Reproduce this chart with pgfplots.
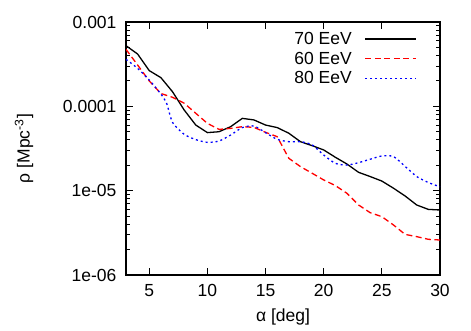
\documentclass[border=0pt]{standalone}
\usepackage{fontspec}
\setmainfont{Liberation Sans}
\usepackage{pgfplots}
\pgfplotsset{compat=1.18}
\newcommand{\chartfont}{\fontsize{17.5}{20}\selectfont}
\begin{document}
\begin{tikzpicture}
\begin{axis}[
  at={(126pt,55pt)}, anchor=south west,
  scale only axis, width=314pt, height=253pt,
  ymode=log, xmin=3, xmax=30, ymin=1e-6, ymax=1e-3,
  xtick={5,10,...,30},
  ytick={1e-6,1e-5,1e-4,1e-3},
  yticklabels={1e-06,1e-05,0.0001,0.001},
  minor ytick={2e-6,3e-6,4e-6,5e-6,6e-6,7e-6,8e-6,9e-6,
               2e-5,3e-5,4e-5,5e-5,6e-5,7e-5,8e-5,9e-5,
               2e-4,3e-4,4e-4,5e-4,6e-4,7e-4,8e-4,9e-4},
  /pgf/number format/assume math mode=true,
  tick align=inside,
  major tick length=7pt, minor tick length=4pt,
  every tick/.style={black, line width=1pt},
  axis line style={line width=1.2pt},
  ticklabel style={font=\chartfont},
  xticklabel style={yshift=-6pt},
  yticklabel style={xshift=-6pt},
  xlabel={α [deg]},
  ylabel={ρ [Mpc\textsuperscript{-3}]},
  label style={font=\chartfont, inner sep=0pt},
  xlabel style={at={(axis description cs:0.5,0)}, anchor=north, yshift=-34pt},
  ylabel style={at={(axis description cs:-0.325,0.5)}, anchor=center},
  legend plot pos=right,
  legend cell align=right,
  legend style={draw=none, fill=none, font=\chartfont, inner sep=0pt, outer sep=0pt,
    at={(axis description cs:0.927,0.960)}, anchor=north east,
    row sep=6pt, column sep=13pt,
    nodes={inner sep=0pt}},
  legend image code/.code={\draw[#1] (0pt,0pt) -- (51pt,0pt);},
]
\addplot[black, line width=1.3pt] coordinates {
  (3,5.24e-4) (4,4.17e-4) (5,2.65e-4) (6,2.19e-4) (7,1.49e-4) (8,9.06e-5)
  (9,6.0e-5) (10,4.88e-5) (11,5.0e-5) (12,5.74e-5) (13,7.2e-5) (14,6.9e-5)
  (15,6.0e-5) (16,5.6e-5) (17,4.8e-5) (18,3.81e-5) (19,3.42e-5) (20,3.04e-5)
  (21,2.49e-5) (22,2.07e-5) (23,1.65e-5) (24,1.47e-5) (25,1.30e-5) (26,1.07e-5)
  (27,8.65e-6) (28,6.76e-6) (29,6.0e-6) (30,5.9e-6)
};
\addlegendentry{70 EeV}
\addplot[red, line width=1.3pt, dash pattern=on 6pt off 3.5pt] coordinates {
  (3,4.74e-4) (4,3.09e-4) (5,2.0e-4) (6,1.42e-4) (7,1.28e-4) (8,1.09e-4)
  (9,8.27e-5) (10,6.28e-5) (11,5.33e-5) (12,5.48e-5) (13,5.74e-5) (14,5.63e-5)
  (15,4.92e-5) (16,4.37e-5) (17,2.42e-5) (18,1.93e-5) (19,1.61e-5) (20,1.34e-5)
  (21,1.15e-5) (22,9.3e-6) (23,6.76e-6) (24,5.48e-6) (25,4.92e-6) (26,3.92e-6)
  (27,3.03e-6) (28,2.85e-6) (29,2.65e-6) (30,2.6e-6)
};
\addlegendentry{60 EeV}
\addplot[blue, line width=1.3pt, dash pattern=on 2pt off 3pt, smooth, tension=0.4] coordinates {
  (3,3.61e-4) (4,2.82e-4) (5,2.05e-4) (6,1.40e-4) (6.5,1.08e-4) (7,6.45e-5) (8,4.66e-5)
  (9,4.03e-5) (10,3.74e-5) (11,3.88e-5) (12,4.57e-5) (13,5.6e-5) (14,5.85e-5)
  (15,4.87e-5) (16,4.06e-5) (17,3.81e-5) (18,3.81e-5) (19,3.5e-5) (20,2.65e-5)
  (21,2.11e-5) (22,2.01e-5) (23,2.15e-5) (24,2.36e-5) (25,2.58e-5) (26,2.54e-5)
  (27,1.94e-5) (28,1.47e-5) (29,1.25e-5) (30,1.11e-5)
};
\addlegendentry{80 EeV}
\end{axis}
\pgfresetboundingbox
\path[use as bounding box] (0,0) rectangle (471pt,330pt);
\end{tikzpicture}
\end{document}
